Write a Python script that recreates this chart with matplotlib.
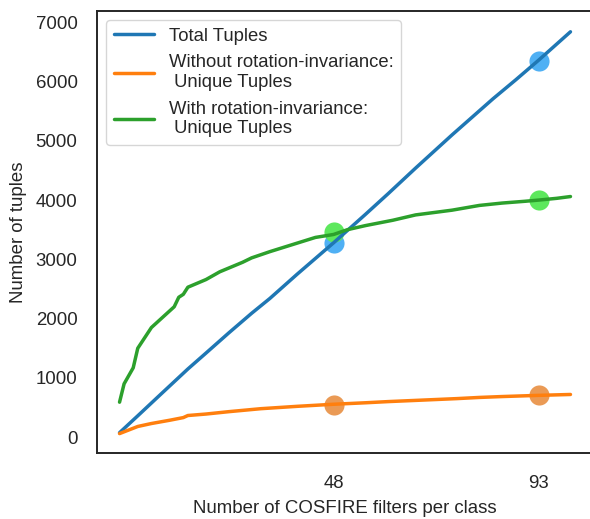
import matplotlib
matplotlib.use("Agg")
import matplotlib.pyplot as plt
import seaborn as sns

# Values
total_x = [1, 5, 10, 16, 20, 25, 30, 34, 40, 48, 55, 60, 66, 74, 83, 88, 93, 100]
total_y = [75, 360, 720, 1150, 1420, 1760, 2090, 2340, 2750, 3280, 3760, 4110,
           4540, 5100, 5710, 6030, 6360, 6840]

no_rot_x = [1, 3, 5, 8, 12, 15, 16, 20, 25, 32, 40, 48, 55, 60, 69, 75, 80, 85, 93, 100]
no_rot_y = [60, 120, 180, 230, 285, 330, 365, 390, 430, 480, 520, 555, 580, 600,
            630, 650, 670, 685, 705, 720]

rot_x = [1, 2, 4, 5, 8, 10, 13, 14, 15, 16, 20, 23, 28, 30, 34, 39, 44, 48, 51,
         55, 61, 66, 70, 74, 80, 85, 90, 93, 97, 100]
rot_y = [590, 900, 1170, 1500, 1850, 1990, 2200, 2360, 2410, 2530, 2660, 2790,
         2950, 3025, 3130, 3250, 3370, 3420, 3500, 3570, 3660, 3750, 3790, 3830,
         3910, 3950, 3980, 4000, 4030, 4060]

mark_x = [48, 93]
mark_total = [3280, 6355]
mark_no_rot = [550, 705]
mark_rot = [3465, 4000]

xtick_vals = [48, 93]


def main():
    sns.set_theme(style="white")
    plt.rcParams["font.family"] = ["Liberation Sans", "DejaVu Sans"]

    fig = plt.figure(figsize=(5.9, 5.19), dpi=100)
    ax = fig.add_axes([0.1644, 0.127, 0.8407, 0.8516])

    ax.scatter(mark_x, mark_total, s=210, color="#4fb0f4", linewidths=0)
    ax.scatter(mark_x, mark_rot, s=210, color="#5de85d", linewidths=0)
    ax.scatter(mark_x, mark_no_rot, s=210, color="#ea9a55", linewidths=0)

    ax.plot(total_x, total_y, color="#1f77b4", lw=2.5, label="Total Tuples")
    ax.plot(no_rot_x, no_rot_y, color="#ff7f0e", lw=2.5,
            label="Without rotation-invariance:\n Unique Tuples")
    ax.plot(rot_x, rot_y, color="#2ca02c", lw=2.5,
            label="With rotation-invariance:\n Unique Tuples")

    ax.set_xlim(-3.95, 104.95)
    ax.set_ylim(-269, 7189)
    ax.set_xticks(xtick_vals)
    ax.set_yticks(range(0, 7001, 1000))
    ax.tick_params(labelsize=13.4, colors=".15")
    ax.tick_params(axis="x", pad=9.5)
    ax.tick_params(axis="y", pad=8)
    ax.set_xlabel("Number of COSFIRE filters per class", fontsize=13.4, labelpad=6)
    ax.set_ylabel("Number of tuples", fontsize=13.4, labelpad=6)
    for sp in ax.spines.values():
        sp.set_linewidth(1.4)
        sp.set_color(".15")

    ax.legend(loc="upper left", fontsize=13.3, handlelength=2.2,
              borderaxespad=0.5, labelspacing=0.52)

    fig.savefig("out.png", dpi=100)


if __name__ == "__main__":
    main()
